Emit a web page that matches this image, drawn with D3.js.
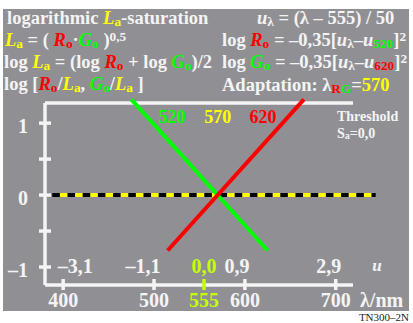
<!DOCTYPE html>
<html>
<head>
<meta charset="utf-8">
<script src="https://cdn.jsdelivr.net/npm/d3@7"></script>
<style>
  body { margin: 0; background: #fff; }
  svg { display: block; }
</style>
</head>
<body>
<svg id="chart" width="413" height="323"></svg>
<script>
// wavelength ticks on the bottom axis and the matching u values
const lambdaTicks = [400, 500, 555, 600, 700];
const uLabels = ["\u20133,1", "\u20131,1", "0,0", "0,9", "2,9"];
const yTicks = [-1, -0.5, 0, 0.5, 1];
const yLabels = [-1, 0, 1];

// straight lines (lambda in nm, log ratio)
const redLambda = [515, 665];
const redValues = [-0.77, 1.33];
const greenLambda = [475, 625];
const greenValues = [1.33, -0.77];
const thresholdLambda = [388, 744];
const thresholdValues = [0, 0];

// curve labels
const curveNames = ["520", "570", "620"];
const curveLambda = [520, 570, 620];

const fg = "#f4f4f4";
const yel = "#ffff00";
const red = "#ff0000";
const grn = "#00ff00";
const lime = "#c4ff00";

const svg = d3.select("#chart")
  .attr("font-family", "'Liberation Serif', 'Times New Roman', serif")
  .attr("font-weight", "bold");

svg.append("rect")
  .attr("x", 3).attr("y", 9)
  .attr("width", 406).attr("height", 302)
  .attr("fill", "#909094");

const x = d3.scaleLinear().domain([380, 719]).range([45, 353]);
const y = d3.scaleLinear().domain([-1.25, 1.28]).range([285, 103]);

// writes a line of mixed text: subscripts, superscripts, colours
function rich(x0, y0, parts, size) {
  const t = svg.append("text")
    .attr("x", x0).attr("y", y0)
    .attr("font-size", size)
    .attr("fill", fg);
  let shift = 0;
  parts.forEach((p) => {
    const s = t.append("tspan").text(p.t).attr("fill", p.c || fg);
    let target = 0;
    if (p.sub) target = size * 0.1;
    if (p.sup) target = -size * 0.28;
    if (p.sub || p.sup) s.attr("font-size", size * 0.72);
    if (p.i) s.attr("font-style", "italic");
    if (target !== shift) {
      s.attr("dy", target - shift);
      shift = target;
    }
  });
  return t;
}

const hs = 18.5;
rich(7, 24, [
  { t: "logarithmic " }, { t: "L", c: yel, i: 1 }, { t: "a", c: yel, sub: 1 },
  { t: "-saturation" }
], hs);
rich(5, 46, [
  { t: "L", c: yel, i: 1 }, { t: "a", c: yel, sub: 1 }, { t: " = ( " },
  { t: "R", c: red, i: 1 }, { t: "o", c: red, sub: 1 }, { t: "\u00b7" },
  { t: "G", c: grn, i: 1 }, { t: "o", c: grn, sub: 1 }, { t: " )" },
  { t: "0,5", sup: 1 }
], hs);
rich(4, 68, [
  { t: "log " }, { t: "L", c: yel, i: 1 }, { t: "a", c: yel, sub: 1 },
  { t: " = (log " }, { t: "R", c: red, i: 1 }, { t: "o", c: red, sub: 1 },
  { t: " + log " }, { t: "G", c: grn, i: 1 }, { t: "o", c: grn, sub: 1 },
  { t: ")/2" }
], hs);
rich(4, 90, [
  { t: "log [" }, { t: "R", c: red, i: 1 }, { t: "o", c: red, sub: 1 },
  { t: "/" }, { t: "L", c: yel, i: 1 }, { t: "a", c: yel, sub: 1 },
  { t: ", " }, { t: "G", c: grn, i: 1 }, { t: "o", c: grn, sub: 1 },
  { t: "/" }, { t: "L", c: yel, i: 1 }, { t: "a", c: yel, sub: 1 },
  { t: " ]" }
], hs);

rich(257, 24, [
  { t: "u", i: 1 }, { t: "\u03bb", sub: 1 }, { t: " = (\u03bb \u2013 555) / 50" }
], hs);
rich(222, 46, [
  { t: "log " }, { t: "R", c: red, i: 1 }, { t: "o", c: red, sub: 1 },
  { t: " = \u20130,35[" }, { t: "u", i: 1 }, { t: "\u03bb", sub: 1 },
  { t: "\u2013" }, { t: "u", i: 1 }, { t: "520", c: grn, sub: 1 },
  { t: "]" }, { t: "2", sup: 1 }
], hs);
rich(222, 68, [
  { t: "log " }, { t: "G", c: grn, i: 1 }, { t: "o", c: grn, sub: 1 },
  { t: " = \u20130,35[" }, { t: "u", i: 1 }, { t: "\u03bb", sub: 1 },
  { t: "\u2013" }, { t: "u", i: 1 }, { t: "620", c: red, sub: 1 },
  { t: "]" }, { t: "2", sup: 1 }
], hs);
rich(222, 91, [
  { t: "Adaptation: \u03bb" }, { t: "R", c: red, sub: 1 }, { t: "G", c: grn, sub: 1 },
  { t: "=" }, { t: "570", c: yel }
], hs);

// frame: left axis, bottom axis, top line
const frame = svg.append("g").attr("stroke", fg).attr("stroke-width", 3.5);
frame.append("line").attr("x1", x(380)).attr("x2", x(380)).attr("y1", y(1.28)).attr("y2", y(-1.25));
frame.append("line").attr("x1", x(380)).attr("x2", x(719)).attr("y1", y(-1.25)).attr("y2", y(-1.25));
frame.append("line").attr("x1", x(380)).attr("x2", x(719)).attr("y1", y(1.28)).attr("y2", y(1.28));

frame.selectAll(".yt").data(yTicks).enter().append("line")
  .attr("x1", x(380) - 6).attr("x2", x(380) + 6)
  .attr("y1", (d) => y(d)).attr("y2", (d) => y(d));

svg.selectAll(".xt").data(lambdaTicks).enter().append("line")
  .attr("x1", (d) => x(d)).attr("x2", (d) => x(d))
  .attr("y1", y(-1.25) - 6).attr("y2", y(-1.25) + 5)
  .attr("stroke", (d) => (d === 555 ? lime : fg))
  .attr("stroke-width", 3.5);

// y labels
svg.selectAll(".yl").data(yLabels).enter().append("text")
  .attr("x", (d) => (d < 0 ? 18 : 23))
  .attr("y", (d) => y(d) + 10)
  .attr("text-anchor", "middle")
  .attr("font-size", 20)
  .attr("fill", fg)
  .text((d) => (d < 0 ? "\u20131" : d));

// lambda labels
svg.selectAll(".xl").data(lambdaTicks).enter().append("text")
  .attr("x", (d) => x(d))
  .attr("y", 306.5)
  .attr("text-anchor", "middle")
  .attr("font-size", 20)
  .attr("fill", (d) => (d === 555 ? lime : fg))
  .text((d) => d);

// u labels
const uOffset = [12, -11, 0, -8, -7];
svg.selectAll(".ul").data(lambdaTicks).enter().append("text")
  .attr("x", (d, i) => x(d) + uOffset[i])
  .attr("y", 273)
  .attr("text-anchor", "middle")
  .attr("font-size", 20)
  .attr("fill", (d) => (d === 555 ? lime : fg))
  .text((d, i) => uLabels[i]);

svg.append("text").attr("x", 377).attr("y", 271).attr("text-anchor", "middle")
  .attr("font-size", 17).attr("font-style", "italic").attr("fill", fg).text("u");
svg.append("text").attr("x", 360).attr("y", 306.5)
  .attr("font-size", 20).attr("fill", fg).text("\u03bb/nm");

// threshold line: black with yellow dashes
const line = d3.line().x((d) => x(d[0])).y((d) => y(d[1]));
const thr = d3.zip(thresholdLambda, thresholdValues);
svg.append("path").attr("d", line(thr)).attr("stroke", "#000").attr("stroke-width", 4).attr("fill", "none");
svg.append("path").attr("d", line(thr)).attr("stroke", yel).attr("stroke-width", 4)
  .attr("stroke-dasharray", "7.6 7.6").attr("stroke-dashoffset", -7.6).attr("fill", "none");

svg.append("path").attr("d", line(d3.zip(greenLambda, greenValues)))
  .attr("stroke", grn).attr("stroke-width", 4).attr("fill", "none");
svg.append("path").attr("d", line(d3.zip(redLambda, redValues)))
  .attr("stroke", red).attr("stroke-width", 4).attr("fill", "none");

// curve labels
const curveColors = [grn, yel, red];
svg.selectAll(".cl").data(curveNames).enter().append("text")
  .attr("x", (d, i) => x(curveLambda[i]))
  .attr("y", y(1))
  .attr("text-anchor", "middle")
  .attr("font-size", 18)
  .attr("fill", (d, i) => curveColors[i])
  .text((d) => d);

rich(337, 121, [{ t: "Threshold" }], 14);
rich(337, 138, [{ t: "S" }, { t: "a", sub: 1 }, { t: "=0,0" }], 14);

svg.append("text").attr("x", 409).attr("y", 320.5).attr("text-anchor", "end")
  .attr("font-size", 11).attr("font-weight", "normal").attr("fill", "#222")
  .text("TN300\u20132N");
</script>
</body>
</html>
